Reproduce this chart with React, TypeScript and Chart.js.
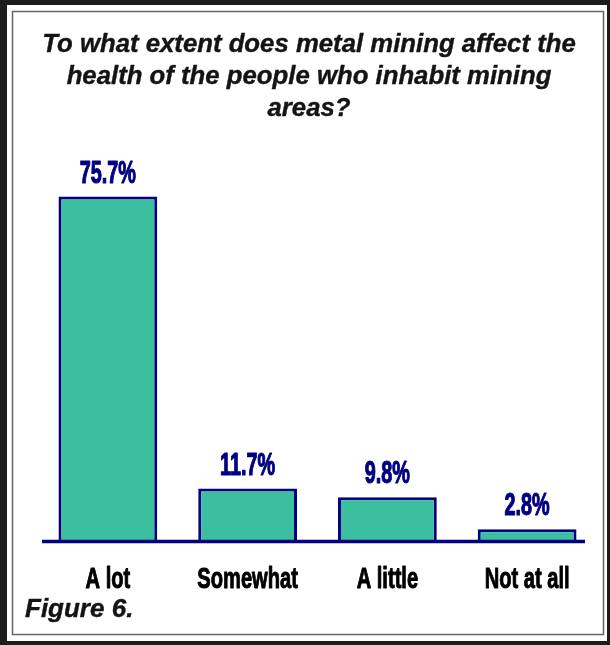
import React, { useEffect, useRef } from "react";
import { Chart, registerables } from "chart.js";

Chart.register(...registerables);

const categories = ["A lot", "Somewhat", "A little", "Not at all"];
const values = [75.7, 11.7, 9.8, 2.8];
const titleLines = [
  "To what extent does metal mining affect the",
  "health of the people who inhabit mining",
  "areas?",
];
const figureLabel = "Figure 6.";

const NAVY = "#000080";
const TEAL = "#3BBF9F";

function drawText(
  ctx: CanvasRenderingContext2D,
  text: string,
  x: number,
  y: number,
  font: string,
  color: string,
  sx: number,
  align: CanvasTextAlign = "center",
  stroke = 0
) {
  ctx.save();
  ctx.font = font;
  ctx.fillStyle = color;
  ctx.strokeStyle = color;
  ctx.textAlign = align;
  ctx.textBaseline = "alphabetic";
  ctx.translate(x, y);
  ctx.scale(sx, 1);
  ctx.fillText(text, 0, 0);
  if (stroke > 0) {
    ctx.lineWidth = stroke;
    ctx.lineJoin = "round";
    ctx.strokeText(text, 0, 0);
  }
  ctx.restore();
}

const framePlugin = {
  id: "frame",
  beforeDraw(chart: any) {
    const ctx = chart.ctx as CanvasRenderingContext2D;
    const w = chart.width;
    const h = chart.height;
    ctx.save();
    ctx.fillStyle = "#1c1c1c";
    ctx.fillRect(0, 0, w, h);
    ctx.fillStyle = "#ffffff";
    ctx.fillRect(7, 5, w - 10, h - 9);
    ctx.strokeStyle = "#666666";
    ctx.lineWidth = 1.5;
    ctx.strokeRect(12.5, 11.5, 591, 623);
    ctx.restore();
  },
};

const textPlugin = {
  id: "texts",
  afterDatasetsDraw(chart: any) {
    const ctx = chart.ctx as CanvasRenderingContext2D;
    const yBase = chart.scales.y.getPixelForValue(0);
    // baseline
    ctx.save();
    ctx.strokeStyle = NAVY;
    ctx.lineWidth = 3.5;
    ctx.beginPath();
    ctx.moveTo(42, yBase - 0.5);
    ctx.lineTo(585, yBase - 0.5);
    ctx.stroke();
    ctx.restore();

    const meta = chart.getDatasetMeta(0);
    meta.data.forEach((el: any, i: number) => {
      drawText(
        ctx,
        values[i].toFixed(1) + "%",
        el.x,
        el.y - 14,
        'bold 31px "Liberation Sans", Arial, sans-serif',
        NAVY,
        0.64,
        "center",
        1.2
      );
      drawText(
        ctx,
        categories[i],
        el.x,
        588,
        'bold 30px "Liberation Sans", Arial, sans-serif',
        "#000000",
        0.67,
        "center",
        1
      );
    });

    const titleBaselines = [52, 84, 116];
    titleLines.forEach((line, i) => {
      drawText(
        ctx,
        line,
        309,
        titleBaselines[i],
        'italic bold 26px "Liberation Sans", Arial, sans-serif',
        "#141414",
        0.99,
        "center",
        0.4
      );
    });

    drawText(
      ctx,
      figureLabel,
      25,
      617,
      'italic bold 26px "Liberation Sans", Arial, sans-serif',
      "#141414",
      1,
      "left",
      0.4
    );
  },
};

export default function App() {
  const ref = useRef<HTMLCanvasElement | null>(null);
  useEffect(() => {
    if (!ref.current) return;
    const chart = new Chart(ref.current, {
      type: "bar",
      data: {
        labels: categories,
        datasets: [
          {
            data: values,
            backgroundColor: TEAL,
            borderColor: NAVY,
            borderWidth: 3,
            borderSkipped: "bottom",
            categoryPercentage: 1,
            barPercentage: 0.707,
          },
        ],
      },
      options: {
        responsive: false,
        animation: false,
        layout: { padding: { left: 38, right: 13, top: 177, bottom: 103 } },
        plugins: {
          legend: { display: false },
          title: { display: false },
          tooltip: { enabled: false },
        },
        scales: {
          x: { display: false },
          y: { display: false, min: 0, max: 80 },
        },
      },
      plugins: [framePlugin, textPlugin],
    });
    return () => chart.destroy();
  }, []);
  return (
    <div style={{ position: "absolute", left: 0, top: 0, width: 610, height: 645 }}>
      <canvas ref={ref} width={610} height={645} style={{ display: "block" }} />
    </div>
  );
}
